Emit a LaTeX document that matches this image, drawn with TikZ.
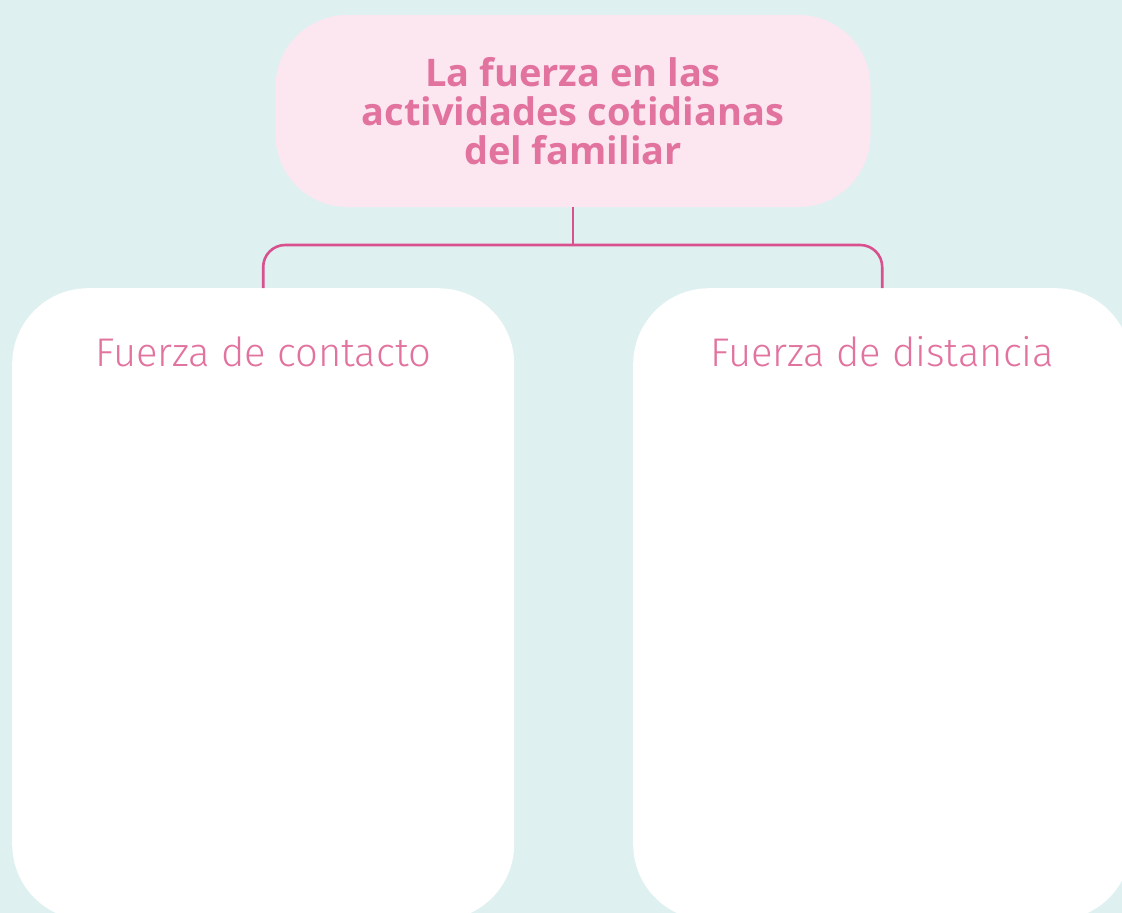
\documentclass[tikz,border=0pt]{standalone}
\usepackage{fontspec}
\setmainfont{Fira Sans}
\newfontfamily\lightfont{Fira Sans Light}
\newfontfamily\titlefont{Open Sans}
\usepackage{tikz}
\usetikzlibrary{positioning}
\usepackage{xcolor}
\definecolor{bgcyan}{HTML}{DFF0F0}
\definecolor{rosefill}{HTML}{FCE7F1}
\definecolor{rosetext}{HTML}{E2739F}
\definecolor{roseline}{HTML}{D9508E}

\begin{document}
\begin{tikzpicture}[
  x=1pt, y=-1pt,
  topbox/.style={fill=rosefill, rounded corners=72pt, minimum width=595pt, minimum height=192pt,
    align=center, text=rosetext, font=\titlefont\fontsize{38}{39}\selectfont\bfseries},
  panel/.style={fill=white, rounded corners=76pt, minimum width=502pt, minimum height=632pt, anchor=north west},
  paneltitle/.style={text=rosetext, font=\lightfont\fontsize{40}{46}\selectfont},
  link/.style={draw=roseline, line width=2.6pt}
]
\useasboundingbox (0,0) rectangle (1122,913);
\fill[bgcyan] (0,0) rectangle (1122,913);
\clip (0,0) rectangle (1122,913);

\node[topbox] (tema) at (573,111) {La fuerza en las\\actividades cotidianas\\del familiar};
\node[panel] (contacto) at (12,288) {};
\node[panel, minimum width=498pt] (distancia) at (633,288) {};
\node[paneltitle, below=45pt of contacto.north] (tcontacto) {Fuerza de contacto};
\node[paneltitle, below=45pt of distancia.north] (tdistancia) {Fuerza de distancia};

\coordinate (rama) at (573,245);
\draw[link] (tema.south) -- (rama);
\draw[link, rounded corners=22pt] (contacto.north) |- (rama) -| (distancia.north);
\end{tikzpicture}
\end{document}
